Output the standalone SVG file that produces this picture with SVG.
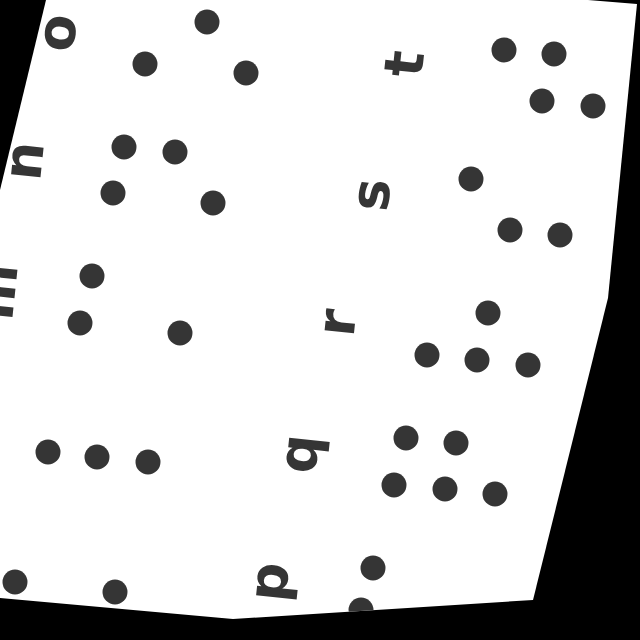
<svg xmlns="http://www.w3.org/2000/svg" width="640" height="640" viewBox="0 0 640 640">
<style>
.d{fill:#353535}
.l{fill:#353535;font-family:"DejaVu Sans","Liberation Sans",sans-serif;font-weight:bold;font-size:54px;text-anchor:middle}
</style>
<defs>
<clipPath id="paperClip"><polygon points="46,0 588,0 637,4 608,298 533,600 233,619 0,598 0,190"/></clipPath>
</defs>
<rect x="0" y="0" width="640" height="640" fill="#000"/>
<polygon id="paper" points="46,0 588,0 637,4 608,298 533,600 233,619 0,598 0,190" fill="#fff"/>
<g clip-path="url(#paperClip)">
<g id="letters">
<text class="l" transform="translate(60,33) rotate(-84)" y="15">o</text>
<text class="l" transform="translate(408,64) rotate(-84)" y="15">t</text>
<text class="l" transform="translate(27,161) rotate(-84)" y="15">n</text>
<text class="l" transform="translate(374,195) rotate(-84)" y="15">s</text>
<text class="l" transform="translate(0,292) rotate(-84)" y="15">m</text>
<text class="l" transform="translate(340,323) rotate(-84)" y="15">r</text>
<text class="l" transform="translate(302,454) rotate(-84)" y="15">q</text>
<text class="l" transform="translate(272,582) rotate(-84)" y="15">p</text>
</g>
<g id="dots">
<circle class="d" cx="207" cy="22" r="12.5"/>
<circle class="d" cx="145" cy="64" r="12.5"/>
<circle class="d" cx="246" cy="73" r="12.5"/>
<circle class="d" cx="504" cy="50" r="12.5"/>
<circle class="d" cx="554" cy="54" r="12.5"/>
<circle class="d" cx="542" cy="101" r="12.5"/>
<circle class="d" cx="593" cy="106" r="12.5"/>
<circle class="d" cx="124" cy="147" r="12.5"/>
<circle class="d" cx="175" cy="152" r="12.5"/>
<circle class="d" cx="113" cy="193" r="12.5"/>
<circle class="d" cx="213" cy="203" r="12.5"/>
<circle class="d" cx="471" cy="179" r="12.5"/>
<circle class="d" cx="510" cy="230" r="12.5"/>
<circle class="d" cx="560" cy="235" r="12.5"/>
<circle class="d" cx="92" cy="276" r="12.5"/>
<circle class="d" cx="80" cy="323" r="12.5"/>
<circle class="d" cx="180" cy="333" r="12.5"/>
<circle class="d" cx="488" cy="313" r="12.5"/>
<circle class="d" cx="427" cy="355" r="12.5"/>
<circle class="d" cx="477" cy="360" r="12.5"/>
<circle class="d" cx="528" cy="365" r="12.5"/>
<circle class="d" cx="406" cy="438" r="12.5"/>
<circle class="d" cx="456" cy="443" r="12.5"/>
<circle class="d" cx="394" cy="485" r="12.5"/>
<circle class="d" cx="445" cy="489" r="12.5"/>
<circle class="d" cx="495" cy="494" r="12.5"/>
<circle class="d" cx="48" cy="452" r="12.5"/>
<circle class="d" cx="97" cy="457" r="12.5"/>
<circle class="d" cx="148" cy="462" r="12.5"/>
<circle class="d" cx="373" cy="568" r="12.5"/>
<circle class="d" cx="361" cy="610" r="12.5"/>
<circle class="d" cx="15" cy="582" r="12.5"/>
<circle class="d" cx="115" cy="592" r="12.5"/>
</g>
</g>
</svg>
